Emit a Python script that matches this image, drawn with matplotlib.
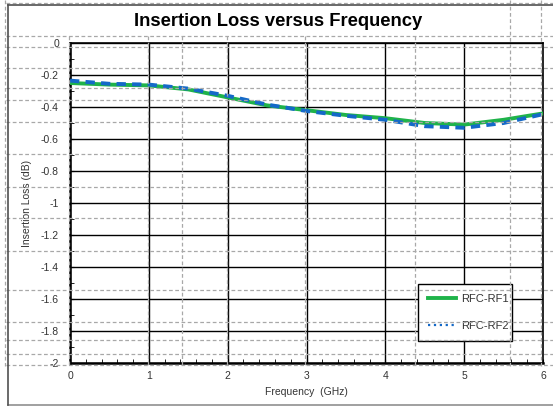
import matplotlib
matplotlib.use("Agg")
import matplotlib.pyplot as plt
from matplotlib.lines import Line2D
from matplotlib.ticker import MultipleLocator

plt.rcParams['font.family'] = ['Liberation Sans', 'DejaVu Sans']

# data
freq = [0, 0.5, 1, 1.5, 2, 2.5, 3, 3.5, 4, 4.5, 5, 5.5, 6]
rf1 = [-0.25, -0.26, -0.265, -0.29, -0.34, -0.39, -0.42, -0.45, -0.47, -0.50, -0.51, -0.48, -0.44]
rf2 = [-0.235, -0.255, -0.26, -0.285, -0.33, -0.385, -0.425, -0.455, -0.48, -0.52, -0.53, -0.50, -0.445]
labels = ['RFC-RF1', 'RFC-RF2']

W, H = 553, 407
fig = plt.figure(figsize=(W / 100, H / 100), dpi=100)
ax = fig.add_axes([70 / W, 44 / H, 473 / W, 320 / H])

green = '#1fb34a'
blue = '#1469c8'
ax.plot(freq, rf1, color=green, lw=2.8, zorder=3)
ax.plot(freq, rf2, color=blue, lw=2.8, ls=(0, (2.4, 1.6)), zorder=4)

ax.set_xlim(0, 6)
ax.set_ylim(-2, 0)
ax.xaxis.set_major_locator(MultipleLocator(1))
ax.xaxis.set_minor_locator(MultipleLocator(0.2))
ax.yaxis.set_major_locator(MultipleLocator(0.2))
ax.yaxis.set_minor_locator(MultipleLocator(0.1))
ax.yaxis.set_major_formatter(plt.FuncFormatter(lambda v, p: '%g' % round(v, 1)))
ax.grid(True, which='major', color='black', lw=1.0)
ax.tick_params(which='both', direction='in', labelsize=7.5, labelcolor='#333333',
               top=False, right=False)
ax.tick_params(which='major', length=3)
ax.tick_params(which='minor', length=3)
ax.tick_params(axis='x', pad=6)
ax.tick_params(axis='y', pad=8)
for s in ax.spines.values():
    s.set_color('black')
    s.set_linewidth(1.2)
ax.spines['left'].set_linewidth(1.8)
ax.spines['bottom'].set_linewidth(1.8)

ax.set_xlabel('Frequency  (GHz)', fontsize=7.5, color='#333333', labelpad=4)
ax.set_ylabel('Insertion Loss (dB)', fontsize=7.5, color='#333333', labelpad=6)
fig.text(278 / W, 1 - 22 / H, 'Insertion Loss versus Frequency', ha='center', va='center',
         fontsize=13.2, fontweight='bold')

handles = [Line2D([], [], color=green, lw=2.8),
           Line2D([], [], color=blue, lw=1.6, ls=':')]
leg = ax.legend(handles, labels, loc='lower left',
                bbox_to_anchor=((418 - 70) / 473, (363 - 341) / 320, 94 / 473, 55 / 320),
                mode='expand', fontsize=8, frameon=True, fancybox=False,
                edgecolor='black', framealpha=1, handlelength=2.5, handletextpad=0.5,
                labelspacing=1.5, borderpad=0.9, borderaxespad=0)
for t in leg.get_texts():
    t.set_color('#333333')
leg.get_frame().set_linewidth(1.0)

# layout guide lines of the source document (pixel positions)
guide_y = [36, 47, 68, 88, 100, 122, 154, 187, 218, 251, 290, 322, 340, 354, 365]
guide_x = [69, 148, 182, 227, 305, 415, 510, 541]
dash = dict(color='#a8a8a8', lw=0.9, ls=(0, (3, 2)), transform=fig.transFigure, zorder=5)
for yp in [3] + guide_y:
    fig.add_artist(Line2D([6 / W, 1], [1 - yp / H, 1 - yp / H], **dash))
for xp in guide_x:
    top = 0 if xp in (510, 541) else 36
    fig.add_artist(Line2D([xp / W, xp / W], [1 - top / H, 1 - 366 / H], **dash))
fig.add_artist(Line2D([5 / W, 5 / W], [1, 1 - 366 / H], **dash))

# outer frame
frame = dict(color='#505050', lw=1.2, transform=fig.transFigure, zorder=6)
fig.add_artist(Line2D([8 / W, 1], [1 - 5 / H, 1 - 5 / H], **frame))
fig.add_artist(Line2D([8 / W, 8 / W], [1 - 5 / H, 1 - 405 / H], **frame))
fig.add_artist(Line2D([8 / W, 1], [1 - 405 / H, 1 - 405 / H], color='#909090', lw=1.2,
                      transform=fig.transFigure))

fig.savefig('out.png', dpi=100)
